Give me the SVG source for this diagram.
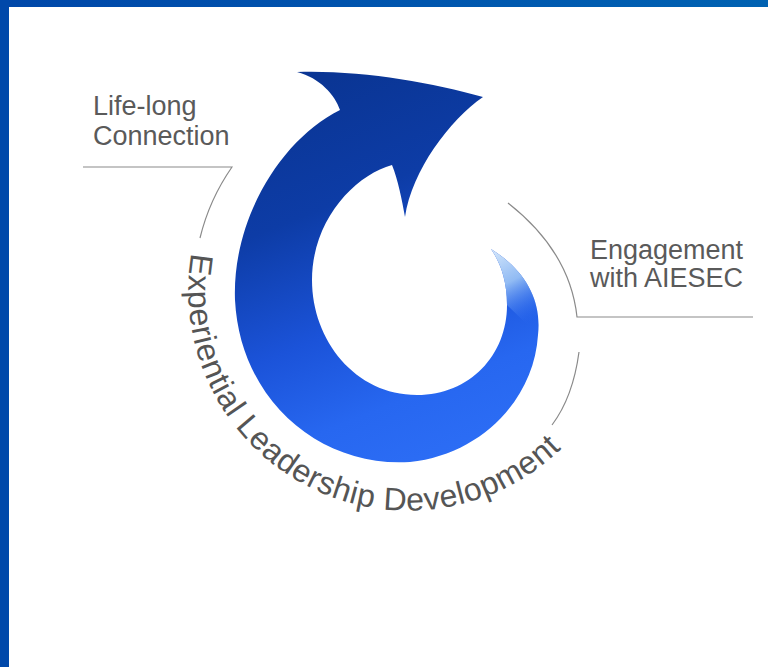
<svg xmlns="http://www.w3.org/2000/svg" width="768" height="667" viewBox="0 0 768 667">
<defs>
<style>
.lbl{font-family:"Liberation Sans",Arial,sans-serif;font-size:27px;fill:#5a5a5a}
.arc{font-family:"Liberation Sans",Arial,sans-serif;font-size:32px;letter-spacing:0.6px;fill:#555555}
.ln{fill:none;stroke:#8a8a8a;stroke-width:1.2}
</style>
<linearGradient id="bar" x1="0" y1="0" x2="768" y2="0" gradientUnits="userSpaceOnUse">
<stop offset="0" stop-color="#0047A9"/><stop offset="1" stop-color="#0062B2"/>
</linearGradient>
<linearGradient id="body" x1="320" y1="80" x2="470" y2="450" gradientUnits="userSpaceOnUse">
<stop offset="0" stop-color="#0A3594"/>
<stop offset="0.3" stop-color="#0D3CA6"/>
<stop offset="0.6" stop-color="#1B53D9"/>
<stop offset="0.82" stop-color="#2767F0"/>
<stop offset="1" stop-color="#2C6DF5"/>
</linearGradient>
<linearGradient id="tail" x1="492" y1="250" x2="530" y2="322" gradientUnits="userSpaceOnUse">
<stop offset="0" stop-color="#D4E7FB" stop-opacity="1"/>
<stop offset="0.45" stop-color="#9EC6F6" stop-opacity="0.9"/>
<stop offset="1" stop-color="#2C6DF5" stop-opacity="0"/>
</linearGradient>
<path id="txtArc" d="M 191.5 253 A 220 220 0 0 0 607 385"/>
</defs>
<rect width="768" height="667" fill="#ffffff"/>
<g id="frame">
<rect x="0" y="0" width="768" height="7" fill="url(#bar)"/>
<rect x="0" y="0" width="9" height="667" fill="#0048AA"/>
</g>
<g id="spiral">
<path id="spiralShape" fill="url(#body)" d="M 491 249 C 525 270, 542 300, 538 335 C 534 400, 480 455, 410 462 C 320 468, 240 400, 235 300 C 232 220, 280 140, 340 110 C 335 95, 320 78, 297 72 C 360 70, 430 82, 483 97 C 450 120, 412 170, 405 217 C 402 200, 398 180, 392 165 C 355 175, 312 220, 312 280 C 312 340, 355 395, 417 395 C 470 395, 507 355, 507 305 C 507 280, 500 262, 491 249 Z"/>
<path fill="url(#tail)" d="M 491 249 C 525 270, 542 300, 538 335 L 507 305 C 507 280, 500 262, 491 249 Z"/>
</g>
<g id="connectors">
<path class="ln" d="M 83 167 L 232 167 A 212 212 0 0 0 200 238"/>
<path class="ln" d="M 508 203 C 545 232, 572 270, 577 317 L 753 317"/>
<path class="ln" d="M 579 352 Q 573 397, 552 425"/>
</g>
<g id="life-long">
<text class="lbl" x="93" y="115">Life-long</text>
<text class="lbl" x="93" y="145">Connection</text>
</g>
<g id="engagement">
<text class="lbl" x="590" y="259">Engagement</text>
<text class="lbl" x="590" y="287">with AIESEC</text>
</g>
<g id="experiential">
<text class="arc"><textPath href="#txtArc">Experiential Leadership Development</textPath></text>
</g>
</svg>
